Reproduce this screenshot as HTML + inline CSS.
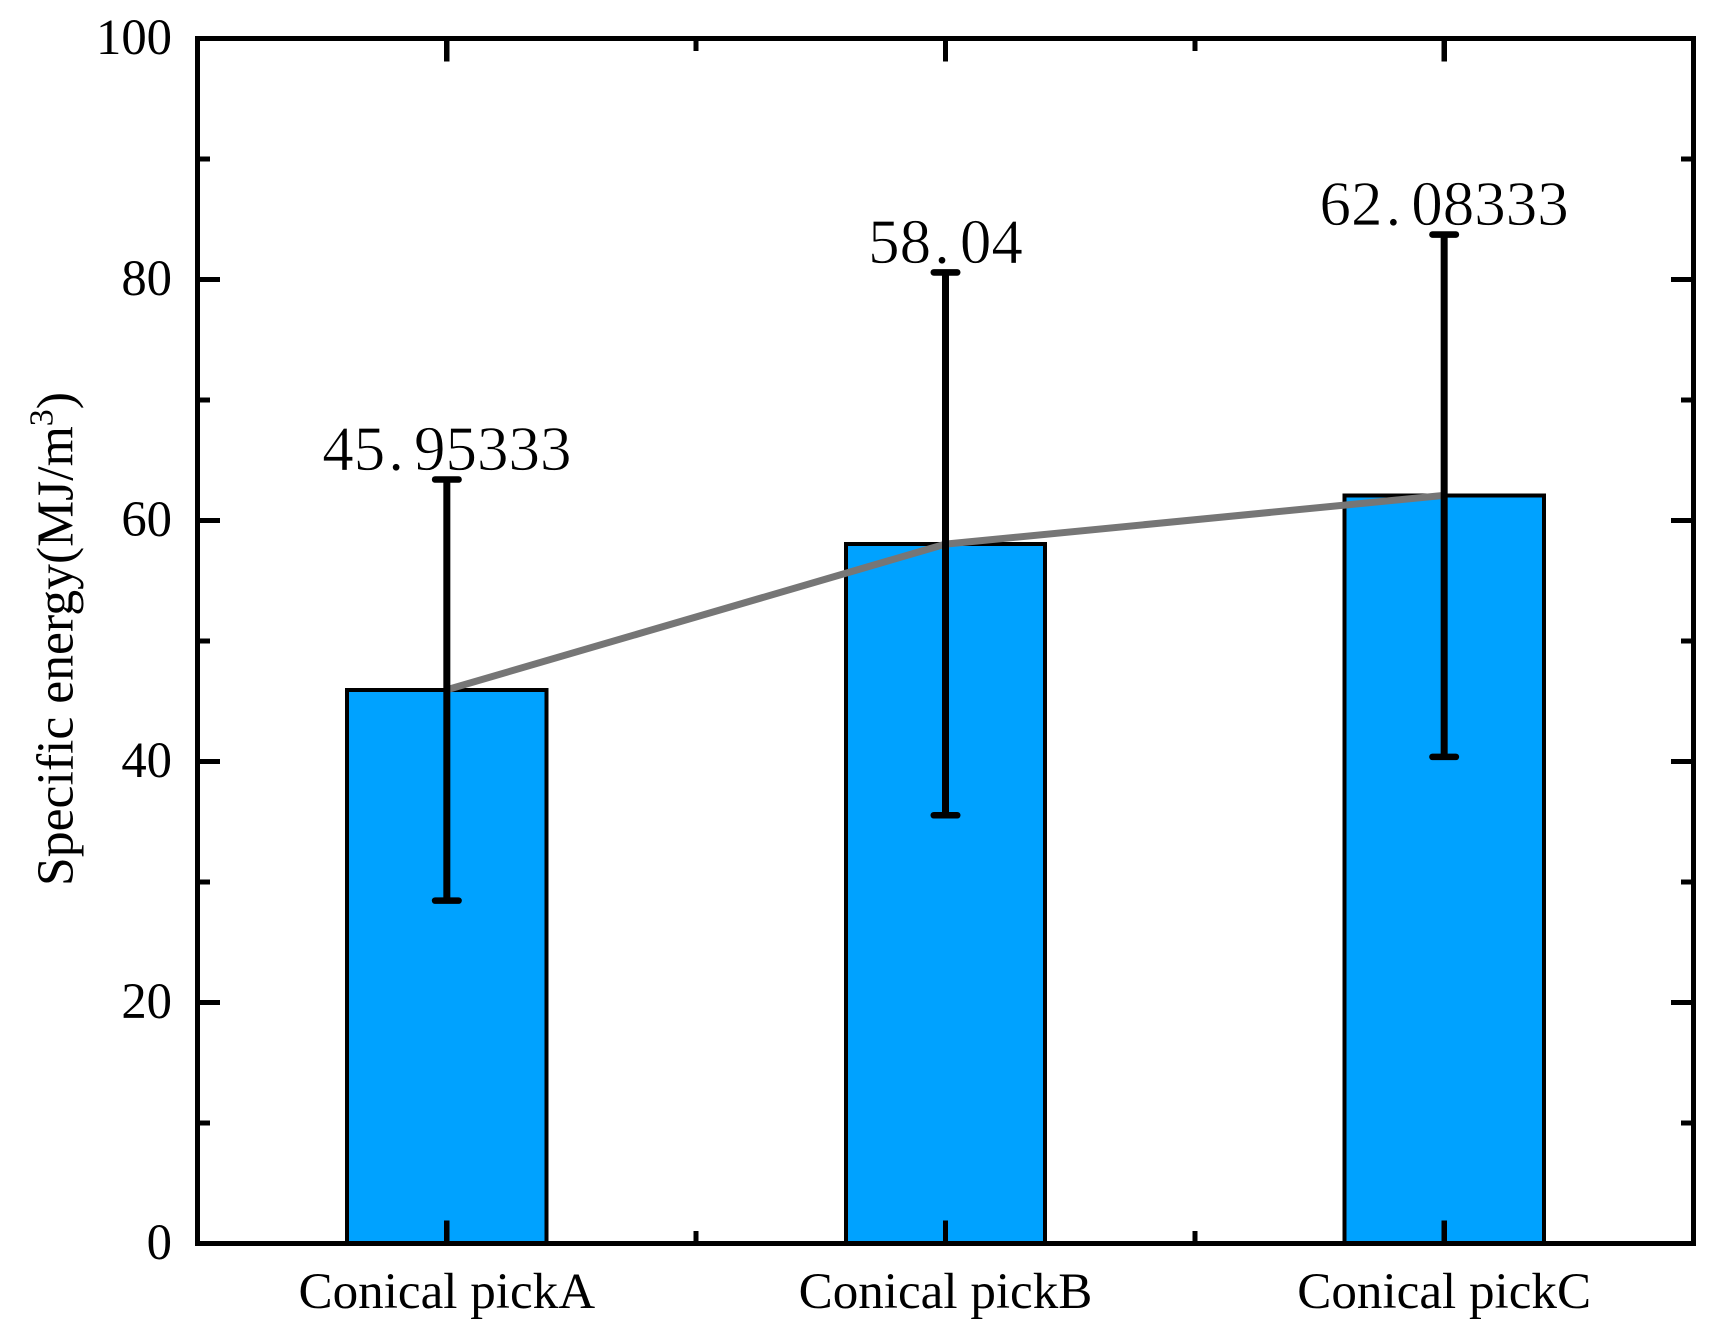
<!DOCTYPE html>
<html lang="en">
<head>
<meta charset="utf-8">
<title>Specific energy by conical pick</title>
<style>
html,body{margin:0;padding:0;background:#fff;}
svg{display:block;}
text{font-family:"Liberation Serif","Times New Roman",serif;fill:#000;}
</style>
</head>
<body>
<svg id="chart" xmlns="http://www.w3.org/2000/svg" width="1720" height="1337" viewBox="0 0 1720 1337">
  <rect x="0" y="0" width="1720" height="1337" fill="#fff"/>
  <g id="bars" shape-rendering="crispEdges"></g>
  <g id="trend"></g>
  <g id="errors"></g>
  <g id="value-labels"></g>
  <g id="axes" shape-rendering="crispEdges"></g>
  <g id="tick-labels"></g>
  <text transform="translate(72.7,886) rotate(-90)" font-size="51.7">Specific energy(MJ/m<tspan font-size="34" dy="-20">3</tspan><tspan dy="20">)</tspan></text>
</svg>
<script>
const categories = ["Conical pickA", "Conical pickB", "Conical pickC"];
const values = [45.95333, 58.04, 62.08333];
const errorsUp = [17.45, 22.55, 21.65];
const errorsDown = [17.5, 22.5, 21.7];
const yMajorTicks = [0, 20, 40, 60, 80, 100];
const yMinorTicks = [10, 30, 50, 70, 90];

const plotLeft = 197.5, plotRight = 1693.5, plotTop = 38.5, plotBottom = 1243.5;
const NS = "http://www.w3.org/2000/svg";
const yMax = 100;
function yScale(v) { return plotBottom - (plotBottom - plotTop) * v / yMax; }
function xScale(i) { return plotLeft + (plotRight - plotLeft) * (i + 0.5) / categories.length; }
const bandWidth = (plotRight - plotLeft) / categories.length;

function make(tag, parent) {
  const el = document.createElementNS(NS, tag);
  parent.appendChild(el);
  return el;
}
function segment(parent, x1, y1, x2, y2, width, color) {
  const l = make("line", parent);
  l.setAttribute("x1", x1);
  l.setAttribute("y1", y1);
  l.setAttribute("x2", x2);
  l.setAttribute("y2", y2);
  l.setAttribute("stroke", color);
  l.setAttribute("stroke-width", width);
  return l;
}

const barsG = document.getElementById("bars");
const trendG = document.getElementById("trend");
const errorsG = document.getElementById("errors");
const valuesG = document.getElementById("value-labels");
const axesG = document.getElementById("axes");
const labelsG = document.getElementById("tick-labels");

/* bars */
values.forEach(function (v, i) {
  const w = bandWidth * 0.4;
  const r = make("rect", barsG);
  
  
  r.setAttribute("x", xScale(i) - w / 2);
  r.setAttribute("y", yScale(v));
  r.setAttribute("width", w);
  r.setAttribute("height", yScale(0) - yScale(v));
  r.setAttribute("fill", "#00A2FF");
  r.setAttribute("stroke", "#000");
  r.setAttribute("stroke-width", "4");
});

/* connecting line */
const trend = make("polyline", trendG);


trend.setAttribute("points", values.map(function (v, i) { return xScale(i) + "," + yScale(v); }).join(" "));
trend.setAttribute("fill", "none");
trend.setAttribute("stroke", "#767676");
trend.setAttribute("stroke-width", "7");

/* error bars and printed values */
values.forEach(function (v, i) {
  const x = xScale(i);
  const top = yScale(v + errorsUp[i]);
  const bottom = yScale(v - errorsDown[i]);
  const stem = segment(errorsG, x, top, x, bottom, 7, "#000");
  
  
  const capT = segment(errorsG, x - 11.7, top, x + 11.7, top, 6.6, "#000");
  
  
  capT.setAttribute("stroke-linecap", "round");
  const capB = segment(errorsG, x - 11.7, bottom, x + 11.7, bottom, 6.6, "#000");
  
  
  capB.setAttribute("stroke-linecap", "round");

  const parts = String(v).split(".");
  const t = make("text", valuesG);
  
  
  t.setAttribute("x", x);
  t.setAttribute("y", top - 9.4);
  t.setAttribute("text-anchor", "middle");
  t.setAttribute("font-size", "63");
  t.setAttribute("style", "fill:#000;stroke:#fff;stroke-width:0.7px");
  t.appendChild(document.createTextNode(parts[0]));
  if (parts.length > 1) {
    const dot = make("tspan", t);
    dot.setAttribute("dx", "3");
    dot.setAttribute("style", "letter-spacing:10px");
    dot.textContent = ".";
    t.appendChild(document.createTextNode(parts[1]));
  }
});

/* y ticks */
yMajorTicks.forEach(function (v) {
  const y = yScale(v);
  const a = segment(axesG, plotLeft, y, plotLeft + 22.5, y, 5, "#000");
  
  
  const b = segment(axesG, plotRight, y, plotRight - 22.5, y, 5, "#000");
  
  
  const t = make("text", labelsG);
  
  
  t.setAttribute("x", 172);
  t.setAttribute("y", y + 15.5);
  t.setAttribute("text-anchor", "end");
  t.setAttribute("font-size", "50.7");
  t.textContent = String(v);
});
yMinorTicks.forEach(function (v) {
  const y = yScale(v);
  const a = segment(axesG, plotLeft, y, plotLeft + 12.5, y, 5, "#000");
  
  
  const b = segment(axesG, plotRight, y, plotRight - 12.5, y, 5, "#000");
  
  
});

/* x ticks and labels */
categories.forEach(function (c, i) {
  const x = xScale(i);
  const a = segment(axesG, x, plotBottom, x, plotBottom - 23, 5.4, "#000");
  
  
  const b = segment(axesG, x, plotTop, x, plotTop + 23, 5.4, "#000");
  
  
  if (i > 0) {
    const mx = x - bandWidth / 2;
    const m1 = segment(axesG, mx, plotBottom, mx, plotBottom - 12.5, 5, "#000");
    
    
    const m2 = segment(axesG, mx, plotTop, mx, plotTop + 12.5, 5, "#000");
    
    
  }
  const t = make("text", labelsG);
  
  
  t.setAttribute("x", x);
  t.setAttribute("y", 1308);
  t.setAttribute("text-anchor", "middle");
  t.setAttribute("font-size", "51.1");
  t.textContent = c;
});

/* frame */
const frame = make("rect", axesG);


frame.setAttribute("x", plotLeft);
frame.setAttribute("y", plotTop);
frame.setAttribute("width", plotRight - plotLeft);
frame.setAttribute("height", plotBottom - plotTop);
frame.setAttribute("fill", "none");
frame.setAttribute("stroke", "#000");
frame.setAttribute("stroke-width", "5");
</script>
</body>
</html>
